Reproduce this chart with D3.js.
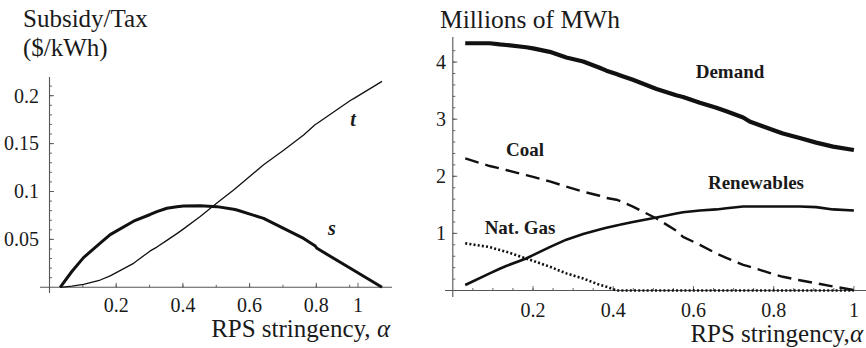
<!DOCTYPE html>
<html>
<head>
<meta charset="utf-8">
<script src="https://cdn.jsdelivr.net/npm/d3@7"></script>
<style>
  html, body { margin: 0; padding: 0; background: #fff; }
  svg { display: block; }
</style>
</head>
<body>
<svg id="chart" width="866" height="348"></svg>
<script>
// ---- Left panel: optimal subsidy (s) and tax (t) vs RPS stringency ----
const alphaST = [0.032, 0.067, 0.102, 0.152, 0.182, 0.252, 0.302, 0.322, 0.352, 0.382, 0.402, 0.452, 0.502, 0.552, 0.562, 0.642, 0.702, 0.762, 0.797, 0.802, 0.902, 0.912, 0.997];
const subsidyS = [0.000, 0.0165, 0.031, 0.046, 0.055, 0.069, 0.076, 0.079, 0.0825, 0.084, 0.0849, 0.085, 0.0842, 0.0815, 0.0807, 0.072, 0.0616, 0.051, 0.043, 0.0407, 0.0198, 0.0178, 0.000];
const taxT     = [0.000, 0.0012, 0.003, 0.0076, 0.012, 0.025, 0.038, 0.042, 0.049, 0.056, 0.061, 0.074, 0.088, 0.1016, 0.1045, 0.128, 0.143, 0.159, 0.170, 0.171, 0.195, 0.197, 0.215];

const leftXTickValues = [0.2, 0.4, 0.6, 0.8, 0.925];
const leftXTickLabels = ["0.2", "0.4", "0.6", "0.8", "1"];
const leftYTickValues = [0.05, 0.1, 0.15, 0.2];
const leftYTickLabels = ["0.05", "0.1", "0.15", "0.2"];

// ---- Right panel: generation by source and demand (millions of MWh) ----
const alphaGen = [0.031, 0.092, 0.117, 0.133, 0.183, 0.2, 0.2416, 0.283, 0.325, 0.366, 0.383, 0.408, 0.416, 0.449, 0.508, 0.557, 0.574, 0.616, 0.657, 0.682, 0.724, 0.74, 0.807, 0.823, 0.865, 0.906, 0.948, 1.0];
const demand     = [4.33, 4.33, 4.31, 4.30, 4.26, 4.24, 4.18, 4.08, 4.01, 3.90, 3.85, 3.79, 3.77, 3.69, 3.53, 3.42, 3.39, 3.29, 3.20, 3.14, 3.03, 2.96, 2.79, 2.75, 2.67, 2.59, 2.52, 2.46];
const coal       = [2.315, 2.18, 2.14, 2.11, 2.02, 1.99, 1.91, 1.82, 1.73, 1.66, 1.62, 1.59, 1.57, 1.47, 1.26, 1.05, 0.94, 0.80, 0.65, 0.57, 0.45, 0.417, 0.27, 0.24, 0.18, 0.126, 0.07, 0.01];
const renewables = [0.096, 0.30, 0.38, 0.43, 0.56, 0.62, 0.76, 0.89, 0.99, 1.07, 1.10, 1.14, 1.15, 1.20, 1.28, 1.35, 1.37, 1.40, 1.42, 1.44, 1.47, 1.47, 1.47, 1.47, 1.47, 1.46, 1.42, 1.40];
const natGas     = [0.826, 0.76, 0.71, 0.68, 0.56, 0.52, 0.417, 0.30, 0.21, 0.10, 0.067, 0.0, 0.0, 0.0, 0.0, 0.0, 0.0, 0.0, 0.0, 0.0, 0.0, 0.0, 0.0, 0.0, 0.0, 0.0, 0.0, 0.0];

const rightXTickValues = [0.2, 0.4, 0.6, 0.8, 1];
const rightXTickLabels = ["0.2", "0.4", "0.6", "0.8", "1"];
const rightYTickValues = [1, 2, 3, 4];
const rightYTickLabels = ["1", "2", "3", "4"];

const FONT = "'Liberation Serif', Tinos, 'Times New Roman', 'DejaVu Serif', serif";
const svg = d3.select("#chart").attr("font-family", FONT);
const axisColor = "#555";
const inkColor = "#1a1a1a";

// ---------- scales ----------
const xL = d3.scaleLinear().domain([0, 1]).range([49.5, 383]);
const yL = d3.scaleLinear().domain([0, 0.2]).range([287.3, 95.7]);
const xR = d3.scaleLinear().domain([0, 1]).range([452.8, 853.9]);
const yR = d3.scaleLinear().domain([0, 4]).range([290.5, 62.1]);

function addText(parent, x, y, str, size) {
  return parent.append("text").attr("x", x).attr("y", y)
    .attr("font-family", FONT).attr("fill", inkColor)
    .style("font-size", size + "px").text(str);
}

// draws a pair of axes with inward ticks
function drawAxes(opt) {
  const g = svg.append("g");
  const { x, y, xMajor, xLabels, xMinor, yMajor, yLabels, yMinor, xExt, yExt, xLabelY, yLabelX } = opt;
  const x0 = x(0), y0 = y(0);

  g.append("line").attr("x1", xExt[0]).attr("x2", xExt[1]).attr("y1", y0).attr("y2", y0)
    .attr("stroke", axisColor).attr("stroke-width", 1.1);
  g.append("line").attr("x1", x0).attr("x2", x0).attr("y1", yExt[0]).attr("y2", yExt[1])
    .attr("stroke", axisColor).attr("stroke-width", 1.1);

  g.selectAll(null).data(xMinor).join("line")
    .attr("x1", d => x(d)).attr("x2", d => x(d)).attr("y1", y0).attr("y2", y0 - 2.5)
    .attr("stroke", axisColor).attr("stroke-width", 0.9);
  g.selectAll(null).data(xMajor).join("line")
    .attr("x1", d => x(d)).attr("x2", d => x(d)).attr("y1", y0).attr("y2", y0 - 4.5)
    .attr("stroke", axisColor).attr("stroke-width", 0.9);
  xMajor.forEach((d, i) => addText(g, x(d), xLabelY, xLabels[i], 20).attr("text-anchor", "middle"));

  g.selectAll(null).data(yMinor).join("line")
    .attr("x1", x0).attr("x2", x0 + 2.5).attr("y1", d => y(d)).attr("y2", d => y(d))
    .attr("stroke", axisColor).attr("stroke-width", 0.9);
  g.selectAll(null).data(yMajor).join("line")
    .attr("x1", x0).attr("x2", x0 + 4.5).attr("y1", d => y(d)).attr("y2", d => y(d))
    .attr("stroke", axisColor).attr("stroke-width", 0.9);
  yMajor.forEach((d, i) => addText(g, yLabelX, y(d), yLabels[i], 20)
    .attr("dy", "0.34em").attr("text-anchor", "end"));
}

drawAxes({
  x: xL, y: yL,
  xMajor: leftXTickValues, xLabels: leftXTickLabels,
  xMinor: d3.range(1, 10).map(i => i / 10),
  yMajor: leftYTickValues, yLabels: leftYTickLabels,
  yMinor: d3.range(1, 22).map(i => i / 100),
  xExt: [40, 392], yExt: [77, 293],
  xLabelY: 311.5, yLabelX: 39
});

drawAxes({
  x: xR, y: yR,
  xMajor: rightXTickValues, xLabels: rightXTickLabels,
  xMinor: d3.range(1, 20).map(i => i / 20),
  yMajor: rightYTickValues, yLabels: rightYTickLabels,
  yMinor: d3.range(1, 22).map(i => i / 5),
  xExt: [445, 866], yExt: [37, 297],
  xLabelY: 316.5, yLabelX: 446
});

// ---------- curves ----------
function curve(xs, ys, xScale, yScale, width, dash) {
  const line = d3.line().x(d => xScale(d[0])).y(d => yScale(d[1]));
  const p = svg.append("path")
    .datum(xs.map((a, i) => [a, ys[i]]))
    .attr("d", line)
    .attr("fill", "none")
    .attr("stroke", "#111")
    .attr("stroke-width", width)
    .attr("stroke-linejoin", "round");
  if (dash) p.attr("stroke-dasharray", dash);
  return p;
}

curve(alphaST, taxT, xL, yL, 1.3);
curve(alphaST, subsidyS, xL, yL, 3);

curve(alphaGen, demand, xR, yR, 4.2);
curve(alphaGen, renewables, xR, yR, 2.6);
curve(alphaGen, coal, xR, yR, 2.4, "14,7");
curve(alphaGen, natGas, xR, yR, 2.6, "2,2.2");

// ---------- curve labels ----------
addText(svg, 353, 126, "t", 20).attr("text-anchor", "middle")
  .style("font-weight", "bold").style("font-style", "italic");
addText(svg, 332, 235, "s", 20).attr("text-anchor", "middle")
  .style("font-weight", "bold").style("font-style", "italic");

const seriesLabels = [
  { text: "Demand", x: 730, y: 78 },
  { text: "Coal", x: 525, y: 156 },
  { text: "Renewables", x: 756, y: 189 },
  { text: "Nat. Gas", x: 520, y: 234 }
];
seriesLabels.forEach(d => addText(svg, d.x, d.y, d.text, 19)
  .attr("text-anchor", "middle").style("font-weight", "bold"));

// ---------- titles and axis labels ----------
addText(svg, 23, 27, "Subsidy/Tax", 25);
addText(svg, 23, 56, "($/kWh)", 25);
addText(svg, 440, 27.5, "Millions of MWh", 25.5);

function alphaLabel(xEnd, yBase, sep) {
  const t = addText(svg, xEnd, yBase, null, 25).attr("text-anchor", "end");
  t.append("tspan").text("RPS stringency," + sep);
  t.append("tspan").style("font-style", "italic").text("α");
}
alphaLabel(390, 337, " ");
alphaLabel(863, 342, "");
</script>
</body>
</html>
